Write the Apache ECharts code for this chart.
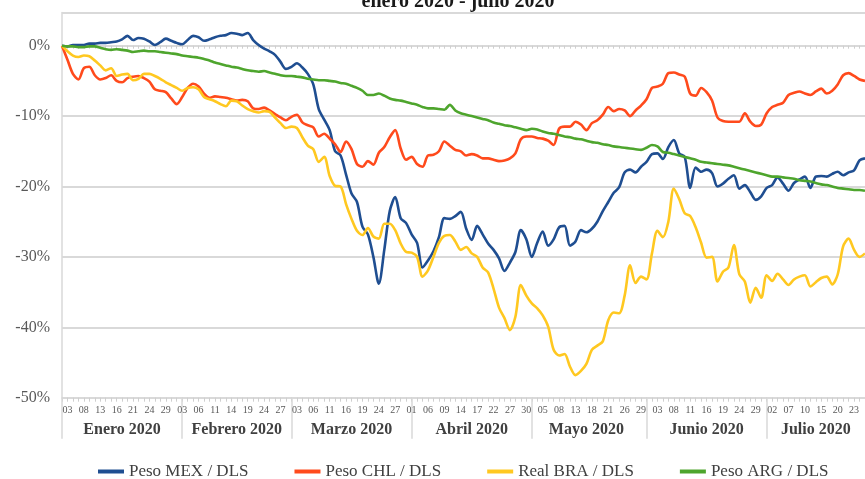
<!DOCTYPE html>
<html>
<head>
<meta charset="utf-8">
<script src="https://cdn.jsdelivr.net/npm/echarts@6/dist/echarts.min.js"></script>
<style>
  html, body { margin: 0; padding: 0; background: #fff; }
  #chart { width: 865px; height: 479px; }
</style>
</head>
<body>
<div id="chart"></div>
<script>
// dias habiles de cada mes (enero - julio 2020)
var diasEnero   = [2,3,6,7,8,9,10,13,14,15,16,17,20,21,22,23,24,27,28,29,30,31];
var diasFebrero = [3,4,5,6,7,10,11,12,13,14,17,18,19,20,21,24,25,26,27,28];
var diasMarzo   = [2,3,4,5,6,9,10,11,12,13,16,17,18,19,20,23,24,25,26,27,30,31];
var diasAbril   = [1,2,3,6,7,8,9,10,13,14,15,16,17,20,21,22,23,24,27,28,29,30];
var diasMayo    = [1,4,5,6,7,8,11,12,13,14,15,18,19,20,21,22,25,26,27,28,29];
var diasJunio   = [1,2,3,4,5,8,9,10,11,12,15,16,17,18,19,22,23,24,25,26,29,30];
var diasJulio   = [1,2,3,6,7,8,9,10,13,14,15,16,17,20,21,22,23,24,27];

var meses = ['Enero 2020', 'Febrero 2020', 'Marzo 2020', 'Abril 2020', 'Mayo 2020', 'Junio 2020', 'Julio 2020'];

var etiquetasY = ['-50%', '-40%', '-30%', '-20%', '-10%', '0%'];

// variacion acumulada (%)
var pesoMex = [0,-0.1,0.1,0.1,0.1,0.3,0.3,0.4,0.4,0.5,0.6,0.9,1.4,0.8,1.1,1.0,0.6,0.1,0.5,1.0,0.7,0.4,
  0.2,0.8,1.4,1.2,0.7,0.9,1.2,1.4,1.5,1.8,1.7,1.5,1.8,0.8,0.1,-0.4,-0.8,-1.3,-2.3,-3.3,
  -3.0,-2.5,-3.1,-4.0,-5.5,-9.0,-10.5,-12.0,-15.0,-15.6,-18.3,-21.0,-22.2,-25.7,-26.8,-30.0,-33.8,-29.0,-23.5,-21.5,-24.5,-25.2,
  -26.8,-28.0,-31.5,-30.5,-29.2,-27.2,-24.5,-24.6,-24.2,-23.6,-26.0,-27.6,-25.6,-26.8,-28.1,-29.0,-30.2,-32.0,-30.8,-29.3,-26.2,-27.5,
  -30.0,-28.0,-26.4,-28.4,-27.5,-25.8,-25.6,-28.4,-27.8,-26.2,-26.5,-26.0,-25.0,-23.5,-22.2,-20.9,-20.1,-18.0,-17.6,-18.0,-17.2,
  -16.5,-15.4,-15.3,-16.1,-14.4,-13.4,-15.3,-15.8,-20.2,-17.3,-17.9,-17.6,-18.1,-20.0,-19.6,-18.9,-18.4,-20.3,-19.8,-20.8,-21.9,-21.4,
  -20.2,-19.8,-18.7,-19.6,-20.6,-19.5,-19.0,-18.6,-20.2,-18.6,-18.5,-18.6,-18.2,-17.9,-18.4,-18.0,-17.7,-16.3,-16.0];

var pesoChl = [0,-2.0,-4.0,-4.8,-3.2,-3.0,-4.2,-4.8,-4.6,-4.2,-5.0,-5.2,-4.6,-4.4,-4.3,-4.6,-5.1,-6.2,-6.4,-6.6,-7.5,-8.3,
  -7.3,-6.0,-5.4,-5.8,-6.8,-7.4,-7.2,-7.3,-7.4,-7.6,-7.8,-7.7,-7.9,-8.9,-9.0,-8.8,-9.2,-9.7,-10.2,-10.6,
  -10.1,-9.8,-10.9,-11.3,-11.6,-12.9,-12.5,-13.2,-14.0,-15.1,-13.6,-14.7,-16.8,-17.2,-16.4,-16.9,-15.2,-14.4,-13.0,-12.0,-14.6,-16.2,
  -15.8,-16.8,-17.2,-15.6,-15.5,-15.0,-13.6,-14.2,-14.8,-15.0,-15.6,-15.4,-15.6,-16.0,-16.0,-16.2,-16.4,-16.3,-16.0,-15.3,-13.3,-12.9,
  -12.9,-13.1,-13.2,-13.5,-14.1,-11.8,-11.5,-11.5,-10.8,-11.2,-12.0,-11.0,-10.6,-9.8,-8.7,-9.3,-9.0,-9.2,-10.0,-9.2,-8.5,
  -7.6,-6.0,-5.8,-5.4,-3.9,-3.8,-4.1,-4.4,-6.8,-7.1,-6.0,-6.6,-7.8,-10.2,-10.7,-10.8,-10.8,-10.8,-9.6,-10.8,-11.4,-11.2,
  -9.6,-8.7,-8.4,-8.1,-7.0,-6.7,-6.5,-6.8,-7.0,-6.5,-6.1,-6.8,-6.4,-5.5,-4.2,-3.9,-4.3,-4.8,-5.0];

var realBra = [0,-0.8,-1.4,-1.6,-1.4,-1.5,-2.1,-2.8,-3.5,-3.2,-4.3,-4.1,-4.0,-4.9,-4.7,-4.0,-4.0,-4.3,-4.7,-5.2,-5.6,-6.0,
  -6.4,-6.0,-5.9,-6.2,-7.3,-7.6,-7.9,-8.3,-8.6,-7.8,-7.9,-8.5,-9.0,-9.3,-9.5,-9.3,-9.4,-10.2,-11.0,-11.7,
  -11.5,-11.7,-13.0,-14.2,-14.7,-16.5,-15.8,-18.5,-19.9,-20.0,-22.5,-24.6,-26.3,-26.9,-25.9,-27.1,-27.4,-25.3,-25.3,-26.2,-28.1,-29.3,
  -29.4,-30.0,-32.8,-31.9,-30.0,-28.0,-27.0,-26.9,-27.8,-29.0,-28.6,-29.5,-30.0,-31.5,-32.2,-34.5,-37.2,-38.7,-40.4,-38.5,-34.0,-35.5,
  -36.6,-37.3,-38.3,-39.9,-43.2,-44.0,-43.8,-45.6,-46.8,-46.2,-45.2,-43.2,-42.6,-42.0,-39.0,-37.9,-38.0,-35.5,-31.2,-33.7,-32.8,
  -33.2,-29.5,-26.3,-27.2,-25.0,-20.3,-21.8,-23.8,-24.2,-25.8,-28.0,-30.1,-30.0,-33.5,-32.1,-31.5,-28.3,-32.5,-33.5,-36.5,-34.4,-35.8,
  -32.6,-33.4,-32.4,-33.2,-34.0,-33.2,-32.8,-32.6,-34.2,-33.6,-33.0,-32.8,-33.9,-32.5,-28.5,-27.4,-29.0,-30.0,-29.5];

var pesoArg = [0,-0.1,-0.1,-0.2,-0.2,-0.1,-0.1,-0.3,-0.5,-0.6,-0.5,-0.6,-0.7,-0.9,-0.8,-0.7,-0.8,-0.8,-0.9,-1.0,-1.1,-1.2,
  -1.4,-1.5,-1.6,-1.7,-1.9,-2.1,-2.4,-2.6,-2.8,-3.0,-3.1,-3.3,-3.5,-3.6,-3.7,-3.6,-3.8,-4.0,-4.2,-4.3,
  -4.3,-4.4,-4.5,-4.7,-4.8,-4.9,-4.9,-5.0,-5.1,-5.3,-5.4,-5.7,-6.0,-6.4,-7.0,-7.0,-6.8,-7.1,-7.5,-7.7,-7.8,-8.0,
  -8.2,-8.4,-8.7,-8.9,-8.9,-9.0,-9.1,-8.4,-9.2,-9.6,-9.8,-10.0,-10.2,-10.4,-10.6,-10.9,-11.1,-11.3,-11.4,-11.6,-11.8,-12.0,
  -11.8,-11.9,-12.2,-12.4,-12.5,-12.7,-12.9,-13.0,-13.2,-13.3,-13.5,-13.7,-13.8,-14.0,-14.1,-14.3,-14.4,-14.5,-14.6,-14.7,-14.8,
  -14.5,-14.1,-14.3,-15.1,-15.2,-15.4,-15.6,-15.8,-16.0,-16.2,-16.5,-16.6,-16.7,-16.8,-16.9,-17.0,-17.2,-17.4,-17.6,-17.8,-18.0,-18.2,
  -18.4,-18.6,-18.6,-18.7,-18.8,-18.9,-19.1,-19.2,-19.3,-19.5,-19.7,-19.8,-20.0,-20.2,-20.3,-20.4,-20.5,-20.5,-20.6];

// categorias del eje x
var diasPorMes = [diasEnero, diasFebrero, diasMarzo, diasAbril, diasMayo, diasJunio, diasJulio];
var fechas = [];
var inicioMes = [];
var mitadMes = [];
diasPorMes.forEach(function (dias, m) {
  inicioMes.push(fechas.length);
  mitadMes.push(fechas.length + Math.floor(dias.length / 2));
  dias.forEach(function (d) { fechas.push((m + 1) + '-' + d); });
});

var fuente = '"Liberation Serif", "Times New Roman", serif';
var gris = '#d9d9d9';

function serie(nombre, datos, color) {
  return {
    name: nombre,
    type: 'line',
    data: datos,
    xAxisIndex: 0,
    symbol: 'none',
    smooth: 0.3,
    lineStyle: { width: 2.6, color: color },
    itemStyle: { color: color }
  };
}

var chart = echarts.init(document.getElementById('chart'));
chart.setOption({
  animation: false,
  title: {
    text: 'enero 2020 - julio 2020',
    left: 453,
    top: -13,
    textAlign: 'center',
    textStyle: { fontFamily: fuente, fontSize: 20, fontWeight: 'bold', color: '#1a1a1a' }
  },
  legend: {
    top: 458,
    left: 93,
    icon: 'rect',
    itemWidth: 26,
    itemHeight: 4,
    itemGap: 46,
    textStyle: { fontFamily: fuente, fontSize: 17, color: '#404040' },
    data: ['Peso MEX / DLS', 'Peso CHL / DLS', 'Real BRA / DLS', 'Peso ARG / DLS']
  },
  grid: { left: 62, top: 12.6, width: 806, bottom: 81.3, containLabel: false },
  xAxis: [
    {
      type: 'category',
      data: fechas,
      position: 'bottom',
      boundaryGap: false,
      axisLine: { onZero: false, lineStyle: { color: gris, width: 1.5 } },
      axisTick: { show: true, interval: 0, length: 4, lineStyle: { color: '#cfcfcf' } },
      axisLabel: {
        interval: function (i) { return i % 3 === 1; },
        formatter: function (v) { var d = v.split('-')[1]; return d.length < 2 ? '0' + d : d; },
        margin: 8,
        fontFamily: fuente,
        fontSize: 10,
        color: '#595959'
      },
      splitLine: { show: false }
    },
    {
      type: 'category',
      data: fechas,
      position: 'bottom',
      boundaryGap: false,
      axisLine: { show: false, onZero: false },
      axisTick: {
        show: true,
        interval: function (i) { return inicioMes.indexOf(i) >= 0; },
        length: 41,
        lineStyle: { color: gris, width: 1.5 }
      },
      axisLabel: {
        interval: function (i) { return mitadMes.indexOf(i) >= 0; },
        formatter: function (v, i) { return meses[mitadMes.indexOf(i)]; },
        margin: 24,
        fontFamily: fuente,
        fontSize: 16,
        fontWeight: 'bold',
        color: '#404040'
      },
      splitLine: { show: false }
    },
    {
      type: 'category',
      data: fechas,
      position: 'bottom',
      boundaryGap: false,
      axisLine: { show: true, onZero: true, lineStyle: { color: gris, width: 1.5 } },
      axisTick: { show: true, interval: 0, length: 3, lineStyle: { color: '#cfcfcf' } },
      axisLabel: { show: false },
      splitLine: { show: false }
    }
  ],
  yAxis: {
    type: 'value',
    min: -50,
    max: 4.7,
    interval: 10,
    axisLine: { show: true, lineStyle: { color: gris, width: 1.5 } },
    axisTick: { show: false },
    axisLabel: {
      margin: 12,
      fontFamily: fuente,
      fontSize: 16,
      color: '#595959',
      formatter: function (v) {
        var k = Math.round((v + 50) / 10);
        return (Math.abs(v - (k * 10 - 50)) < 0.01 && etiquetasY[k]) ? etiquetasY[k] : '';
      }
    },
    splitLine: { lineStyle: { color: gris, width: 1.8 } }
  },
  series: [
    serie('Peso MEX / DLS', pesoMex, '#1f4e91'),
    serie('Peso CHL / DLS', pesoChl, '#ff4a1c'),
    serie('Real BRA / DLS', realBra, '#ffc820'),
    serie('Peso ARG / DLS', pesoArg, '#4ea52d')
  ]
});
</script>
</body>
</html>
